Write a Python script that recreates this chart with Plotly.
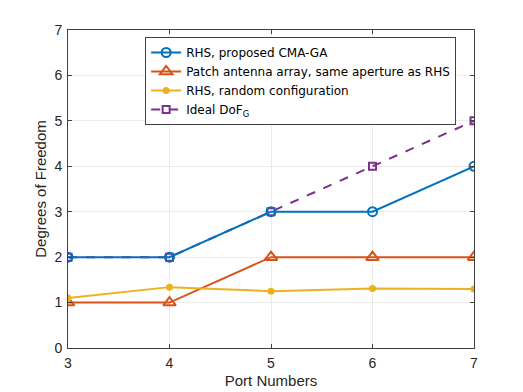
import plotly.graph_objects as go

ports = [3, 4, 5, 6, 7]
dof_cma_ga = [2, 2, 3, 3, 4]
dof_patch = [1, 1, 2, 2, 2]
dof_random = [1.10, 1.34, 1.25, 1.31, 1.30]
dof_ideal = [2, 2, 3, 4, 5]

fig = go.Figure()

# courbe idéale dessinée en premier (en dessous)
fig.add_trace(go.Scatter(
    x=ports, y=dof_ideal, mode="lines+markers",
    name="Ideal DoF<sub>G</sub>", legendrank=4,
    line=dict(color="#7E2F8E", width=2, dash="dash"),
    marker=dict(symbol="square-open", size=7, color="#7E2F8E", line=dict(width=2))
))
fig.add_trace(go.Scatter(
    x=ports, y=dof_cma_ga, mode="lines+markers",
    name="RHS, proposed CMA-GA", legendrank=1,
    line=dict(color="#0072BD", width=2),
    marker=dict(symbol="circle-open", size=9, color="#0072BD", line=dict(width=2))
))
fig.add_trace(go.Scatter(
    x=ports, y=dof_patch, mode="lines+markers",
    name="Patch antenna array, same aperture as RHS", legendrank=2,
    line=dict(color="#D95319", width=2),
    marker=dict(symbol="triangle-up-open", size=11, color="#D95319", line=dict(width=2))
))
fig.add_trace(go.Scatter(
    x=ports, y=dof_random, mode="lines+markers",
    name="RHS, random configuration", legendrank=3,
    line=dict(color="#EDB120", width=2),
    marker=dict(symbol="circle", size=7, color="#EDB120")
))

axis_style = dict(
    showline=True, linecolor="#404040", linewidth=1, mirror="ticks",
    ticks="inside", ticklen=4, tickcolor="#404040",
    showgrid=True, gridcolor="#ebebeb", gridwidth=1,
    zeroline=False, tickfont=dict(size=14, color="#262626"),
)

fig.update_layout(
    width=523, height=392,
    margin=dict(l=60, r=57, t=22, b=52),
    paper_bgcolor="white", plot_bgcolor="white",
    font=dict(family="Liberation Sans, Arial, sans-serif", color="#262626"),
    xaxis=dict(axis_style, range=[3, 7], dtick=1, ticklabelstandoff=2,
               title=dict(text="Port Numbers", font=dict(size=15), standoff=5)),
    yaxis=dict(axis_style, range=[0, 7], dtick=1, ticklabelstandoff=2,
               title=dict(text="Degrees of Freedom", font=dict(size=15), standoff=4)),
    legend=dict(
        x=0.19, y=0.978, xanchor="left", yanchor="top",
        bgcolor="white", bordercolor="#404040", borderwidth=1,
        font=dict(family="DejaVu Sans", size=12, color="#000000"),
        traceorder="normal", itemwidth=30, tracegroupgap=0,
    ),
)

fig.write_html("out.html")
